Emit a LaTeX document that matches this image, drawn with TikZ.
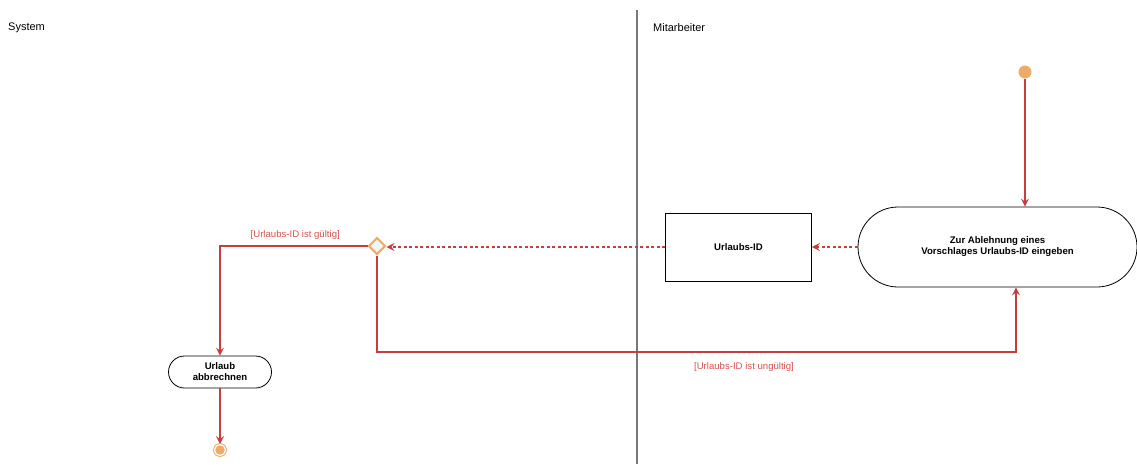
\documentclass[tikz,border=0pt]{standalone}
\usepackage{fontspec}
\setmainfont{Liberation Sans}
\usetikzlibrary{shapes.geometric,arrows.meta}
\definecolor{flow}{RGB}{200,62,62}
\definecolor{flowtext}{RGB}{214,80,80}
\definecolor{token}{RGB}{236,172,104}
\definecolor{lanegray}{RGB}{120,120,120}
\tikzset{
  lanetitle/.style={anchor=west, inner sep=0pt, font=\fontsize{11}{13}\selectfont},
  action/.style={draw=black, line width=0.8pt, fill=white, align=center,
    font=\bfseries\fontsize{9.6}{11}\selectfont, inner sep=0pt},
  objbox/.style={draw=black, line width=0.8pt, fill=white, align=center,
    font=\bfseries\fontsize{9.6}{11}\selectfont, inner sep=0pt,
    minimum width=146, minimum height=68},
  flowline/.style={draw=flow, line width=1.4pt, -{Stealth[length=8pt,width=8pt,inset=3pt]}},
  objline/.style={flowline, dash pattern=on 3pt off 2.5pt},
  guard/.style={text=flowtext, font=\fontsize{9.6}{11}\selectfont, inner sep=1pt},
  initial/.style={circle, fill=token, minimum size=13, inner sep=0pt},
  final/.style={circle, draw=token, line width=1pt, fill=token, double=white,
    double distance=1.2pt, minimum size=11, inner sep=0pt},
  decision/.style={diamond, draw=token, line width=2pt, fill=black!4,
    minimum size=17, inner sep=0pt, aspect=1},
}
\begin{document}
\begin{tikzpicture}[x=1pt, y=-1pt]
\path[use as bounding box] (0,0) rectangle (1137,464);

% swimlane separator and titles
\draw[lanegray, line width=1.3pt] (637,10) coordinate (laneTop) -- (637,464) coordinate (laneBottom);
\node[lanetitle] (sysLane) at (8,28) {System};
\node[lanetitle] (empLane) at (653,28) {Mitarbeiter};

% nodes
\node[initial] (start) at (1025,72) {};
\node[action, minimum width=279, minimum height=80, rounded corners=40pt]
  (enter) at (997.5,247) {Zur Ablehnung eines\\Vorschlages Urlaubs-ID eingeben};
\node[objbox] (uid) at (738.5,247) {Urlaubs-ID};
\node[decision] (check) at (377,246) {};
\node[action, minimum width=103, minimum height=32, rounded corners=16pt]
  (cancel) at (220,372) {Urlaub\\abbrechnen};
\node[final] (stop) at (220,450) {};
\coordinate (loop) at (1016,352);

% control and object flows
\draw[flowline] (start) -- (start |- enter.north);
\draw[objline] (enter.west) -- (uid.east);
\draw[objline] (uid.west) -- (uid.west -| check.east);
\draw[flowline] (check.west) -| node[guard, pos=0.245, above=5pt] {[Urlaubs-ID ist gültig]} (cancel.north);
\draw[flowline] (check.south) |- (loop) -- (loop |- enter.south);
\draw[flowline] (cancel.south) -- (stop.north);
\node[guard] (invalid) at (744,367) {[Urlaubs-ID ist ungültig]};
\end{tikzpicture}
\end{document}
